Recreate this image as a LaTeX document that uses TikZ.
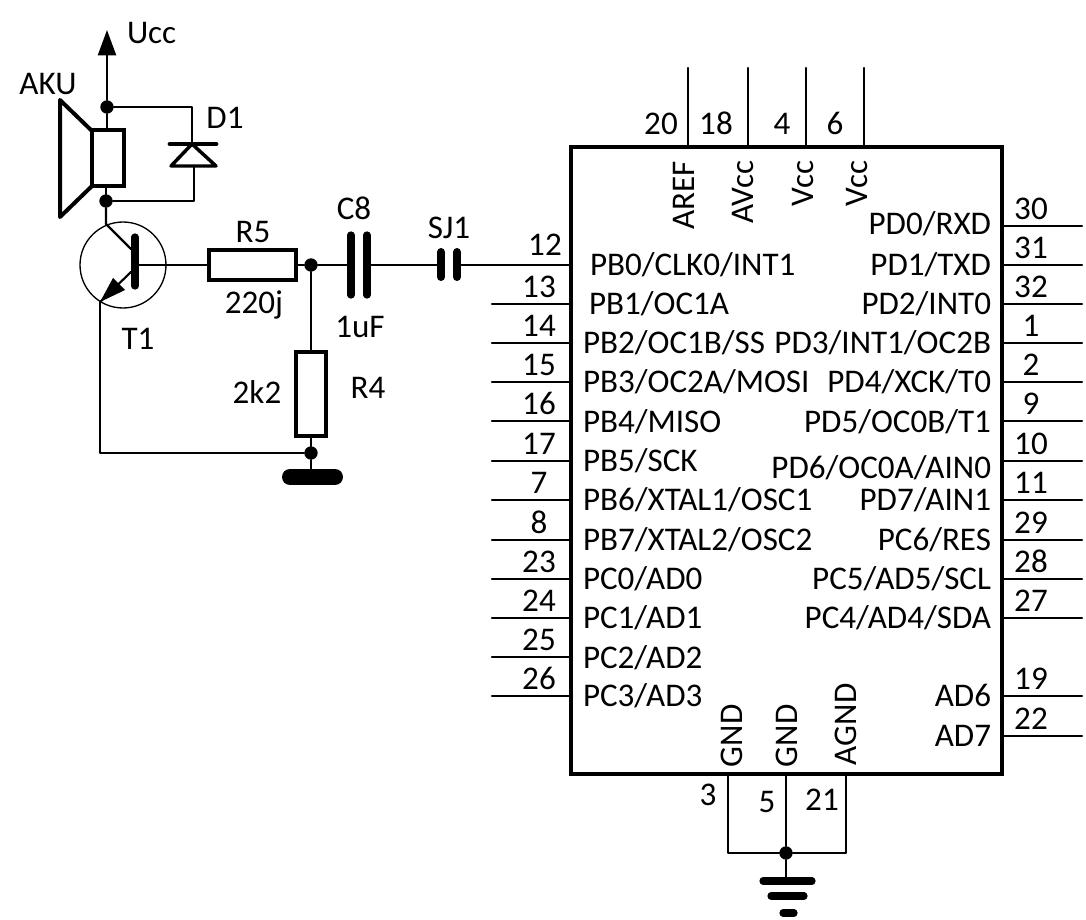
\documentclass[tikz,border=0pt]{standalone}
\usepackage{fontspec}
\setmainfont{Carlito}
\usetikzlibrary{arrows.meta,calc}
\newcommand{\leftpin}[5]{%
  \coordinate (pin#4) at (492,#1);
  \draw[wire] (pin#4) -- (pin#4 -| IC.west);
  \node[lbl,anchor=west] (name#4) at (#5,#2) {#3};
  \node[lbl] (num#4) at (539,#1-17) {#4};
}
\newcommand{\rightpin}[4]{%
  \coordinate (pin#4) at (1082,#1);
  \draw[wire] (pin#4) -- (pin#4 -| IC.east);
  \node[lbl,anchor=east] (name#4) at (991,#2) {#3};
  \node[lbl] (num#4) at (1031,#1-17) {#4};
}
\newcommand{\toppin}[5]{%
  \coordinate (pin#4) at (#1,68);
  \draw[wire] (pin#4) -- (pin#4 |- IC.north);
  \node[lbl,rotate=90,anchor=east] (name#4) at (#2,161) {#3};
  \node[lbl] (num#4) at (#5,124) {#4};
}
\tikzset{
  x=0.75pt,y=-0.75pt,
  wire/.style={line width=1.6pt,line cap=round,line join=round},
  lbl/.style={inner sep=0pt,outer sep=0pt,text height=16pt,text depth=0pt,font=\fontsize{24.8pt}{28pt}\selectfont},
  dot/.style={circle,fill=black,inner sep=0pt,minimum size=10pt},
  res/.style={draw,line width=3pt,inner sep=0pt,outer sep=0pt},
  plate/.style={line width=5.4pt,line cap=round},
}
\begin{document}
\begin{tikzpicture}
\fill[white] (0,0) rectangle (1086,920);
\useasboundingbox (0,0) rectangle (1086,920);

% IC
\node[draw,line width=3pt,inner sep=0pt,outer sep=0pt,minimum width=323.25pt,minimum height=470.25pt] (IC) at (786.5,460.5) {};

\leftpin{304}{304}{PB1/OC1A}{13}{589}
\leftpin{343}{343}{PB2/OC1B/SS}{14}{583}
\leftpin{382}{382}{PB3/OC2A/MOSI}{15}{583}
\leftpin{421}{422}{PB4/MISO}{16}{583}
\leftpin{461}{461}{PB5/SCK}{17}{583}
\leftpin{500}{500}{PB6/XTAL1/OSC1}{7}{583}
\leftpin{540}{540}{PB7/XTAL2/OSC2}{8}{583}
\leftpin{579}{579}{PC0/AD0}{23}{583}
\leftpin{618}{618}{PC1/AD1}{24}{583}
\leftpin{657}{658}{PC2/AD2}{25}{583}
\leftpin{696}{696}{PC3/AD3}{26}{583}

\rightpin{226}{224}{PD0/RXD}{30}
\rightpin{265}{265}{PD1/TXD}{31}
\rightpin{304}{304}{PD2/INT0}{32}
\rightpin{343}{343}{PD3/INT1/OC2B}{1}
\rightpin{382}{382}{PD4/XCK/T0}{2}
\rightpin{421}{422}{PD5/OC0B/T1}{9}
\rightpin{461}{468}{PD6/OC0A/AIN0}{10}
\rightpin{500}{500}{PD7/AIN1}{11}
\rightpin{540}{540}{PC6/RES}{29}
\rightpin{579}{579}{PC5/AD5/SCL}{28}
\rightpin{618}{618}{PC4/AD4/SDA}{27}
\rightpin{696}{696}{AD6}{19}
\rightpin{736}{736}{AD7}{22}

\toppin{688}{684}{AREF}{20}{661}
\toppin{748}{743}{AVcc}{18}{716}
\toppin{806}{803}{Vcc}{4}{782}
\toppin{864}{857}{Vcc}{6}{835}

% pin 12 labels
\node[lbl,anchor=west] (name12) at (590,265) {PB0/CLK0/INT1};
\node[lbl] (num12) at (545,245) {12};

% bottom pins and ground
\node[lbl,rotate=90,anchor=west] (gnda) at (732,767) {GND};
\node[lbl,rotate=90,anchor=west] (gndb) at (787,767) {GND};
\node[lbl,rotate=90,anchor=west] (agnd) at (846,765) {AGND};
\node[lbl] (num3) at (708,795) {3};
\node[lbl] (num5) at (767,802) {5};
\node[lbl] (num21) at (822,800) {21};
\node[dot] (gdot) at (786,853) {};
\coordinate (p3) at (728,774);
\coordinate (p5) at (786,774);
\coordinate (p21) at (846,774);
\coordinate (gbar) at (786,881);
\draw[wire] (p3) -- (p3 |- gdot) -- (gdot);
\draw[wire] (p5) -- (gdot);
\draw[wire] (p21) -- (p21 |- gdot) -- (gdot);
\draw[wire] (gdot) -- (gbar);
\draw[plate] (763,881) -- (812,881);
\draw[plate] (771,896) -- (804,896);
\draw[plate] (783,913) -- (794,913);

% speaker
\node[res,minimum width=24pt,minimum height=42pt] (coil) at (107.5,158.5) {};
\draw[line width=3pt,line join=round] (coil.north west) -- (60,100) -- (60,217) -- (coil.south west);
\node[dot] (dtop) at (107,107) {};
\node[dot] (dbot) at (106,201) {};
\coordinate (ucc) at (107,30);
\draw[wire,-{Triangle[length=19pt,width=13.5pt]}] (dtop) -- (ucc);
\draw[wire] (dtop) -- (coil.north -| dtop);
\draw[wire] (dbot) -- (coil.south -| dbot);
\node[lbl,anchor=west] (uccl) at (127,33) {Ucc};
\node[lbl] (aku) at (48,84) {AKU};

% diode
\coordinate (dcat) at (192,144);
\coordinate (dan) at (194,166);
\draw[wire] (dtop) -- (dcat |- dtop) -- (dcat);
\draw[wire] (dbot) -- (dan |- dbot) -- (dan);
\draw[line width=3.6pt,line cap=round] (170,144) -- (216,144);
\draw[line width=2.6pt,line join=round] (dcat) -- (171,166) -- (216,166) -- cycle;
\node[lbl] (d1) at (225,118) {D1};

% transistor
\node[draw,circle,line width=1pt,inner sep=0pt,minimum size=64.5pt] (T1) at (123,265) {};
\coordinate (tbt) at (135,237);
\coordinate (tbb) at (135,286);
\coordinate (cin) at (106,224);
\coordinate (cout) at (131,249);
\coordinate (eout) at (131,272);
\coordinate (ein) at (100,302);
\coordinate (base) at (135,265);
\draw[line width=5.4pt,line cap=round] (tbt) -- (tbb);
\draw[wire] (dbot) -- (cin) -- (cout);
\draw[wire] (eout) -- (ein);
\fill (ein) -- (113,278) -- (125,290) -- cycle;
\node[lbl] (t1l) at (138,339) {T1};

% resistors
\node[res,minimum width=65pt,minimum height=22pt] (R5) at (252.5,265) {};
\node[lbl] (r5l) at (253,232) {R5};
\node[lbl] (r5v) at (254,303) {220j};
\node[dot] (n1) at (311,265) {};
\node[res,minimum width=22pt,minimum height=63pt] (R4) at (311,394) {};
\node[lbl] (r4l) at (368,388) {R4};
\node[lbl] (r4v) at (257,393) {2k2};
\node[dot] (n2) at (311,453) {};
\coordinate (gnd2) at (311,477);
\draw[wire] (base) -- (R5.west);
\draw[wire] (R5.east) -- (n1);
\draw[wire] (n1) -- (R4.north);
\draw[wire] (R4.south) -- (n2);
\draw[wire] (n2) -- (gnd2);
\coordinate (ecorner) at (100,453);
\draw[wire] (ein) -- (ecorner) -- (n2);
\draw[line width=12pt,line cap=round] (290,477) -- (335,477);

% capacitor and jumper
\coordinate (c8a) at (351,265);
\coordinate (c8b) at (367,265);
\draw[plate] (351,235) -- (351,295);
\draw[plate] (367,235) -- (367,295);
\node[lbl] (c8l) at (354,209) {C8};
\node[lbl] (c8v) at (360,327) {1uF};
\draw[wire] (n1) -- (c8a);
\coordinate (sja) at (441,265);
\coordinate (sjb) at (457,265);
\draw[line width=6pt,line cap=round] (441,252) -- (441,277);
\draw[line width=6pt,line cap=round] (457,252) -- (457,277);
\node[lbl] (sjl) at (449,228) {SJ1};
\draw[wire] (c8b) -- (sja);
\draw[wire] (sjb) -- (sjb -| IC.west);
\end{tikzpicture}
\end{document}
